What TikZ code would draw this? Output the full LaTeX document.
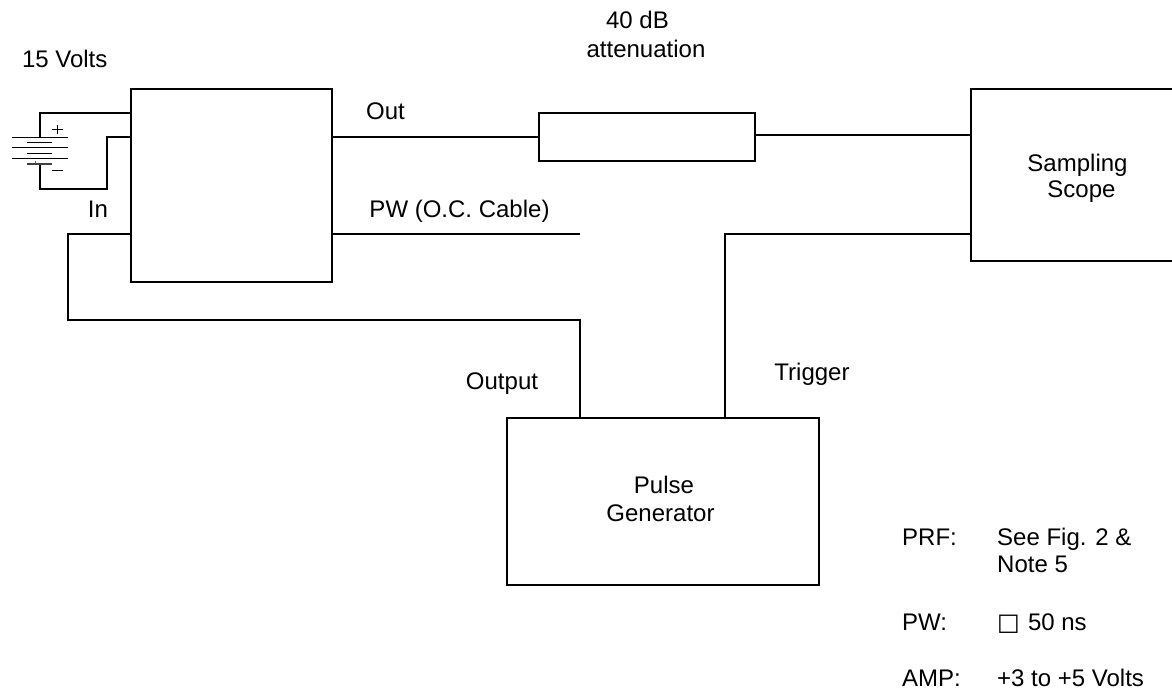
\documentclass[tikz,border=0pt]{standalone}
\usepackage{fontspec}
\setmainfont{Liberation Sans}
\newfontfamily\symfont{DejaVu Sans}
\tikzset{
  wire/.style={line width=1.6pt,black},
  thinwire/.style={line width=1pt,black},
  box/.style={draw=black,line width=1.6pt,inner sep=0pt,minimum width=#1},
  box/.default=10pt,
  lbl/.style={inner sep=0pt,align=center,anchor=base,font=\fontsize{24pt}{27pt}\selectfont,text=black},
  lbll/.style={lbl,align=left,anchor=base west}
}
\begin{document}
\begin{tikzpicture}[x=1pt,y=-1pt]
\useasboundingbox (0,0) rectangle (1172,692);
\fill[white] (0,0) rectangle (1172,692);
% boxes
\node[box=201pt,minimum height=193pt] (amp) at (231.5,185.5) {};
\node[box=216pt,minimum height=48pt] (att) at (647,137) {};
\node[box=204pt,minimum height=172pt] (scope) at (1073,175) {};
\node[box=312pt,minimum height=167pt] (gen) at (663,501.5) {};
% free ends and bends
\coordinate (ampOut) at (amp.east |- 0,137);
\coordinate (attL) at (att.west |- 0,137);
\coordinate (attR) at (att.east |- 0,135);
\coordinate (scopeIn) at (scope.west |- 0,135);
\coordinate (ampPW) at (amp.east |- 0,234);
\coordinate (pwEnd) at (580,234);
\coordinate (ampIn) at (amp.west |- 0,234);
\coordinate (inCorner) at (68,234);
\coordinate (inLow) at (68,320);
\coordinate (genOut) at (gen.north -| 580,0);
\coordinate (outCorner) at (580,320);
\coordinate (scopeTrig) at (scope.west |- 0,234);
\coordinate (trigCorner) at (725,234);
\coordinate (genTrig) at (gen.north -| 725,0);
\coordinate (ampTop) at (amp.west |- 0,113);
\coordinate (ampBot) at (amp.west |- 0,137);
\coordinate (batTop) at (40,138);
\coordinate (batBot) at (40,164);
% connectors
\draw[wire] (ampOut) -- (attL);
\draw[wire] (attR) -- (scopeIn);
\draw[wire] (ampPW) -- (pwEnd);
\draw[wire] (ampIn) -- (inCorner) -- (inLow) -- (outCorner) -- (genOut);
\draw[wire] (scopeTrig) -- (trigCorner) -- (genTrig);
\draw[wire] (ampTop) -- (40,113) -- (batTop);
\draw[wire] (ampBot) -- (107,137) -- (107,189) -- (40,189) -- (batBot);
% battery
\foreach \y in {138,148,159} \draw[thinwire] (12,\y) -- (68,\y);
\foreach \y in {143,153.5} \draw[thinwire] (27,\y) -- (51.5,\y);
\draw[line width=1.4pt,black!75] (27,164) -- (51.5,164);
\draw[line width=.6pt,black!60] (35,161) -- (35,163);
\draw[thinwire] (51.7,130) -- (62.7,130) (57.2,125) -- (57.2,134.5);
\draw[thinwire] (51.7,171) -- (62.7,171);
% labels
\node[lbl] (v15) at (64.7,68) {15 Volts};
\node[lbl] (db) at (646,58) {40 dB\hbox to 17pt{}\\[2pt]attenuation};
\node[lbl] (out) at (385.5,119.5) {Out};
\node[lbl] (pw) at (459.5,218) {PW (O.C. Cable)};
\node[lbl] (in) at (98,218) {In};
\node[lbl] (output) at (502,389.5) {Output};
\node[lbl] (trigger) at (812,380.5) {Trigger};
\node[lbl] (samp) at (1077.5,197.5) {Sampling\\[-1pt]\hspace{8pt}Scope};
\node[lbl] (pulse) at (660.5,521) {\hspace{7pt}Pulse\\[1pt]Generator};
\node[lbll] (prf) at (902,545.5) {PRF:};
\node[lbll] (prfv) at (997,545.5) {See Fig. 2 \&};
\node[lbll] (prfw) at (997,572.5) {Note 5};
\node[lbll] (pwl) at (902,630) {PW:};
\node[lbll] (pwv) at (997,630) {{\symfont □}\hspace{1.5pt} 50 ns};
\node[lbll] (ampl) at (902,686) {AMP:};
\node[lbll] (ampv) at (997,686) {+3 to +5 Volts};
\end{tikzpicture}
\end{document}
